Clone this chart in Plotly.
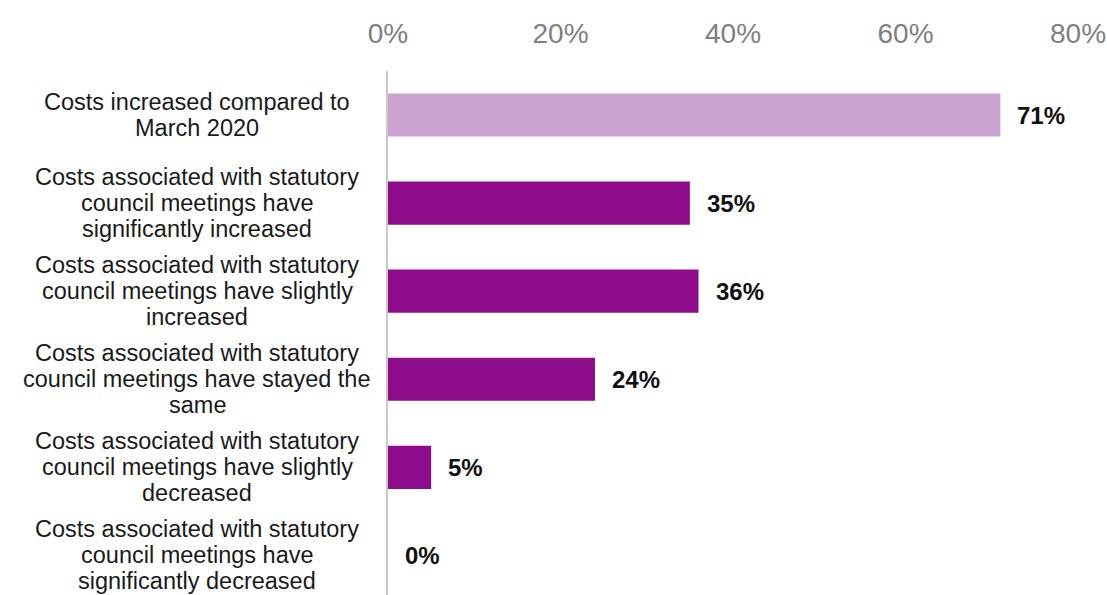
import plotly.graph_objects as go

categories = [
    "Costs increased compared to<br>March 2020",
    "Costs associated with statutory<br>council meetings have<br>significantly increased",
    "Costs associated with statutory<br>council meetings have slightly<br>increased",
    "Costs associated with statutory<br>council meetings have stayed the<br>same",
    "Costs associated with statutory<br>council meetings have slightly<br>decreased",
    "Costs associated with statutory<br>council meetings have<br>significantly decreased",
]
values = [71, 35, 36, 24, 5, 0]
colors = ["#CBA3CF", "#8E0B8B", "#8E0B8B", "#8E0B8B", "#8E0B8B", "#8E0B8B"]
tick_vals = [0, 20, 40, 60, 80]
tick_text = ["0%", "20%", "40%", "60%", "80%"]

fig = go.Figure()
fig.add_trace(go.Bar(
    x=values, y=list(range(len(categories))), orientation="h",
    marker=dict(color=colors, line=dict(width=0)),
    width=0.49, hoverinfo="skip",
))

annotations = []
LINE = 26
for i, (cat, v) in enumerate(zip(categories, values)):
    lines = cat.split("<br>")
    n = len(lines)
    for j, ln in enumerate(lines):
        annotations.append(dict(
            x=0, xref="x", y=i, yref="y", text=ln, showarrow=False,
            xanchor="center", yanchor="middle", xshift=-191,
            yshift=((n - 1) / 2 - j) * LINE,
            font=dict(family="Liberation Sans, Arial, sans-serif", size=23.5, color="#1a1a1a"),
        ))
    annotations.append(dict(
        x=v, xref="x", y=i, yref="y", text=f"<b>{v}%</b>", showarrow=False,
        xanchor="left", yanchor="middle", xshift=15,
        font=dict(family="Liberation Sans, Arial, sans-serif", size=24, color="#111111"),
    ))

fig.update_layout(
    width=1107, height=595,
    margin=dict(l=388, r=29, t=71, b=0),
    paper_bgcolor="white", plot_bgcolor="white",
    showlegend=False,
    annotations=annotations,
    xaxis=dict(
        side="top", range=[0, 80], tickvals=tick_vals, ticktext=tick_text,
        showgrid=False, zeroline=False, showline=False, ticks="",
        tickfont=dict(family="Liberation Sans, Arial, sans-serif", size=28, color="#808080"),
        ticklabelstandoff=21,
    ),
    yaxis=dict(
        range=[5.45, -0.5], showticklabels=False, showgrid=False, zeroline=False,
        showline=True, linecolor="#c8c8c8", linewidth=2, ticks="",
    ),
)

fig.write_html("out.html")
